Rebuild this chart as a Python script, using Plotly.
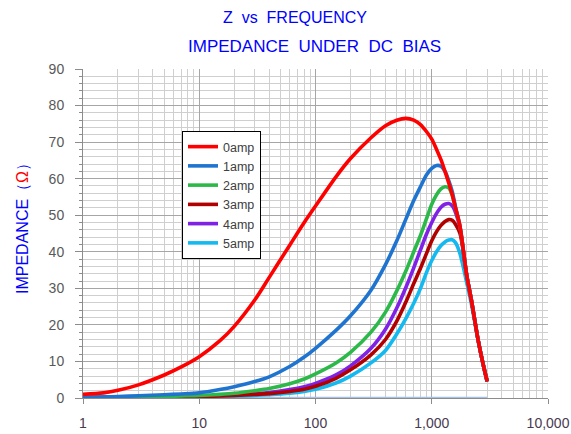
import plotly.graph_objects as go

freq = [1, 1.5, 2, 3, 5, 7, 10, 15, 20, 30, 40, 60, 80, 100, 150, 200, 300, 400, 500,
        600, 700, 800, 900, 1000, 1100, 1200, 1300, 1400, 1500, 1600, 1750, 2000,
        2200, 2500, 2800, 3000]

z_0amp = [1.0, 1.4, 2.1, 3.6, 6.3, 8.5, 11.3, 15.6, 19.6, 26.8, 33.0, 41.8, 48.0, 52.5,
          60.5, 65.5, 71.2, 74.5, 76.0, 76.5, 76.0, 74.8, 72.9, 70.8, 68.0, 65.2, 62.0,
          58.8, 55.6, 52.0, 46.9, 33.5, 26.5, 16.0, 8.5, 4.5]
z_1amp = [0.2, 0.3, 0.4, 0.6, 0.9, 1.1, 1.4, 2.3, 3.1, 4.5, 5.8, 8.6, 11.2, 13.6,
          18.5, 22.5, 29.5, 36.5, 43.0, 49.0, 54.0, 57.8, 61.0, 62.8, 63.6, 63.4, 62.0,
          59.5, 56.5, 52.3, 46.9, 33.5, 26.5, 16.0, 8.5, 4.5]
z_2amp = [0.1, 0.15, 0.2, 0.3, 0.4, 0.55, 0.7, 1.0, 1.3, 2.0, 2.6, 3.9, 5.2, 6.6,
          9.6, 12.5, 18.0, 23.5, 29.3, 34.8, 40.0, 44.5, 49.0, 53.0, 55.6, 57.2, 57.8,
          57.5, 55.5, 52.0, 46.9, 33.5, 26.5, 16.0, 8.5, 4.5]
z_3amp = [0.1, 0.12, 0.15, 0.2, 0.3, 0.35, 0.4, 0.55, 0.7, 1.0, 1.2, 1.8, 2.4, 3.2,
          5.4, 7.7, 11.8, 16.0, 21.0, 26.3, 31.3, 35.5, 39.5, 43.0, 45.5, 47.2, 48.3,
          48.8, 48.6, 47.5, 45.0, 33.5, 26.5, 16.0, 8.5, 4.5]
z_4amp = [0.1, 0.12, 0.15, 0.25, 0.35, 0.4, 0.5, 0.7, 0.9, 1.2, 1.5, 2.3, 3.1, 4.0,
          6.3, 8.8, 13.6, 18.8, 24.6, 30.3, 35.6, 40.5, 44.8, 48.0, 50.5, 52.2, 53.0,
          53.2, 52.6, 50.8, 46.5, 33.5, 26.5, 16.0, 8.5, 4.5]
z_5amp = [0.05, 0.07, 0.1, 0.15, 0.2, 0.25, 0.3, 0.4, 0.5, 0.7, 0.9, 1.3, 1.8, 2.4,
          4.1, 6.0, 9.6, 13.0, 17.5, 21.8, 25.9, 30.0, 34.3, 37.6, 40.0, 41.7, 42.7,
          43.2, 43.3, 42.5, 39.5, 31.5, 25.5, 16.0, 8.5, 4.5]
baseline_freq = [1, 3000]
baseline_z = [0, 0]

series_names = ["0amp", "1amp", "2amp", "3amp", "4amp", "5amp"]
series_values = [z_0amp, z_1amp, z_2amp, z_3amp, z_4amp, z_5amp]
series_colors = ["#ff0000", "#1f74d0", "#2db84a", "#b00000", "#7f22e6", "#14b9f0"]

x_tickvals = [1, 10, 100, 1000, 10000]
x_ticktext = ["1", "10", "100", "1,000", "10,000"]

W, H = 571, 434
ML, MR, MT, MB = 83, 23, 69, 36
pw, ph = W - ML - MR, H - MT - MB


def px_to_paper(x, y_from_top):
    return (x - ML) / pw, (H - y_from_top - MB) / ph


fig = go.Figure()

fig.add_trace(go.Scatter(x=baseline_freq, y=baseline_z, mode="lines",
                         line=dict(color="#a8c0e8", width=2.5),
                         showlegend=False, hoverinfo="skip"))

for name, vals, col in reversed(list(zip(series_names, series_values, series_colors))):
    fig.add_trace(go.Scatter(x=freq, y=vals, mode="lines", name=name,
                             line=dict(color=col, width=3.6, shape="spline", smoothing=0.8)))

t1x, t1y = px_to_paper(295, 17)
t2x, t2y = px_to_paper(314, 46)
t3x, t3y = px_to_paper(22, 224)
lx, ly = px_to_paper(182, 131)

fig.update_layout(
    width=W, height=H,
    margin=dict(l=ML, r=MR, t=MT, b=MB, autoexpand=False),
    paper_bgcolor="white", plot_bgcolor="white",
    font=dict(family="Liberation Sans, Arial, sans-serif"),
    showlegend=True,
    legend=dict(x=lx, y=ly, xanchor="left", yanchor="top",
                bgcolor="white", bordercolor="black", borderwidth=1,
                font=dict(size=12.5, color="#404040"),
                traceorder="reversed", tracegroupgap=0,
                itemwidth=30),
    annotations=[
        dict(text="Z  vs  FREQUENCY", x=t1x, y=t1y, xref="paper", yref="paper",
             xanchor="center", yanchor="middle",
             showarrow=False, font=dict(size=16, color="#0000ff")),
        dict(text="IMPEDANCE  UNDER  DC  BIAS", x=t2x, y=t2y, xref="paper", yref="paper",
             xanchor="center", yanchor="middle",
             showarrow=False, font=dict(size=17, color="#0000ff")),
        dict(text="IMPEDANCE（<span style='color:#ff0000'>Ω</span>）", textangle=-90,
             x=t3x, y=t3y, xref="paper", yref="paper", showarrow=False,
             xanchor="center", yanchor="middle",
             font=dict(size=16, color="#0000ff")),
    ],
)

fig.update_xaxes(type="log", range=[0, 4], tickvals=x_tickvals, ticktext=x_ticktext,
                 tickfont=dict(size=14, color="#4a3a50"), automargin=False,
                 showgrid=True, gridcolor="#a6a6a6", gridwidth=1,
                 ticks="outside", ticklen=5, tickcolor="#8c8c8c",
                 ticklabelstandoff=7,
                 showline=True, linecolor="#8c8c8c", linewidth=1,
                 minor=dict(dtick="D1", showgrid=True, gridcolor="#cfcfcf", gridwidth=1, ticks=""),
                 zeroline=False, mirror=False)
fig.update_yaxes(range=[0, 90], dtick=10, automargin=False,
                 tickfont=dict(size=14, color="#595959"),
                 showgrid=True, gridcolor="#a6a6a6", gridwidth=1,
                 ticks="outside", ticklen=7, tickcolor="#8c8c8c",
                 ticklabelstandoff=8,
                 showline=True, linecolor="#8c8c8c", linewidth=1,
                 minor=dict(dtick=2, showgrid=True, gridcolor="#cfcfcf", gridwidth=1,
                            ticks="outside", ticklen=3, tickcolor="#8c8c8c"),
                 zeroline=False)

fig.write_html("out.html", config={"displayModeBar": False},
               post_script="document.body.style.margin='0px';document.body.style.overflow='hidden';")
